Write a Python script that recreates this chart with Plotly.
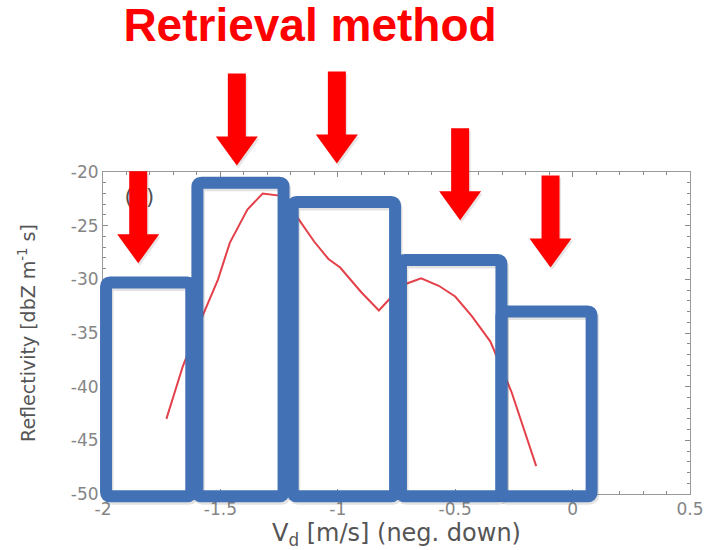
import plotly.graph_objects as go

# Reflectivity profile vs. Doppler velocity
vd = [-1.73, -1.66, -1.57, -1.51, -1.46, -1.385, -1.32, -1.25, -1.17, -1.10, -1.04,
      -0.99, -0.90, -0.825, -0.77, -0.72, -0.645, -0.57, -0.50, -0.43, -0.35, -0.26, -0.155]
refl = [-43.0, -38.1, -33.1, -30.0, -26.6, -23.5, -22.0, -22.2, -24.3, -26.5, -28.1,
        -28.9, -31.2, -32.9, -31.6, -30.5, -29.9, -30.6, -31.6, -33.4, -35.8, -40.5, -47.4]

# Velocity bins highlighted by the retrieval (data units)
box_left = [-1.987, -1.598, -1.192, -0.731, -0.303]
box_right = [-1.624, -1.231, -0.756, -0.303, 0.081]
box_top = [-30.3, -21.0, -22.8, -28.2, -33.0]
box_bottom = -50.2

# Arrows pointing at each bin: centre velocity and tip reflectivity
arrow_x = [-1.85, -1.43, -1.004, -0.479, -0.094]
arrow_tip = [-28.5, -19.4, -19.2, -24.5, -28.9]

x_ticks = [-2, -1.5, -1, -0.5, 0, 0.5]
x_labels = ["-2", "-1.5", "-1", "-0.5", "0", "0.5"]
y_ticks = [-50, -45, -40, -35, -30, -25, -20]
y_labels = ["-50", "-45", "-40", "-35", "-30", "-25", "-20"]

W, H = 704, 550
ML, MR, MT, MB = 103, 14, 172, 56
XR = (-2.0, 0.5)
YR = (-50.0, -20.0)
PW, PH = W - ML - MR, H - MT - MB


def to_px(x, y):
    px = ML + (x - XR[0]) / (XR[1] - XR[0]) * PW
    py = MT + (YR[1] - y) / (YR[1] - YR[0]) * PH
    return px, py


def to_paper(px, py):
    return (px - ML) / PW, (H - MB - py) / PH


def pt(px, py):
    a, b = to_paper(px, py)
    return f"{a:.5f},{b:.5f}"


def rounded_rect(x0, x1, y0, y1, r=4):
    # x0<x1 in pixels, y0 top < y1 bottom
    return (f"M{pt(x0 + r, y0)} L{pt(x1 - r, y0)} Q{pt(x1, y0)} {pt(x1, y0 + r)} "
            f"L{pt(x1, y1 - r)} Q{pt(x1, y1)} {pt(x1 - r, y1)} "
            f"L{pt(x0 + r, y1)} Q{pt(x0, y1)} {pt(x0, y1 - r)} "
            f"L{pt(x0, y0 + r)} Q{pt(x0, y0)} {pt(x0 + r, y0)} Z")


def arrow_path(cx, tip_y, length=92, shaft=18, head_w=42, head_h=29, dx=0, dy=0):
    cx += dx
    tip_y += dy
    top = tip_y - length
    base = tip_y - head_h
    pts = [(cx - shaft / 2, top), (cx + shaft / 2, top), (cx + shaft / 2, base),
           (cx + head_w / 2, base), (cx, tip_y), (cx - head_w / 2, base),
           (cx - shaft / 2, base)]
    return "M" + " L".join(pt(a, b) for a, b in pts) + " Z"


fig = go.Figure()

fig.add_trace(go.Scatter(x=vd, y=refl, mode="lines",
                         line=dict(color="#E4404A", width=2), hoverinfo="skip"))
fig.add_trace(go.Scatter(x=[-1.845], y=[-22.5], mode="text", text=["(b)"],
                         textfont=dict(family="DejaVu Sans", size=21, color="#505050"),
                         hoverinfo="skip"))

shapes = []
blue = "#4271B5"
for l, r, t in zip(box_left, box_right, box_top):
    x0, y0 = to_px(l, t)
    x1, y1 = to_px(r, box_bottom)
    shapes.append(dict(type="path", xref="paper", yref="paper",
                       path=rounded_rect(x0 + 1.5, x1 + 1.5, y0 + 2.5, y1 + 2.5),
                       line=dict(color="rgba(60,60,60,0.15)", width=12),
                       fillcolor="rgba(0,0,0,0)", layer="above"))
    shapes.append(dict(type="path", xref="paper", yref="paper",
                       path=rounded_rect(x0, x1, y0, y1),
                       line=dict(color=blue, width=12),
                       fillcolor="rgba(0,0,0,0)", layer="above"))

for ax_, tip in zip(arrow_x, arrow_tip):
    cx, ty = to_px(ax_, tip)
    shapes.append(dict(type="path", xref="paper", yref="paper",
                       path=arrow_path(cx, ty, dx=1.5, dy=2.5),
                       line=dict(width=0), fillcolor="rgba(80,80,80,0.15)", layer="above"))
    shapes.append(dict(type="path", xref="paper", yref="paper",
                       path=arrow_path(cx, ty),
                       line=dict(width=0), fillcolor="#FF0000", layer="above"))

axis_common = dict(showline=True, linecolor="#9a9a9a", linewidth=1, mirror="ticks",
                   ticks="inside", ticklen=5, tickcolor="#8a8a8a", showgrid=False,
                   zeroline=False, automargin=False,
                   tickfont=dict(family="DejaVu Sans", size=17, color="#858585"))

fig.update_layout(
    width=W, height=H,
    margin=dict(l=ML, r=MR, t=MT, b=MB),
    paper_bgcolor="white", plot_bgcolor="white",
    showlegend=False,
    shapes=shapes,
    title=dict(text="<b>Retrieval method</b>", x=310 / W, xanchor="center",
               y=1 - 25 / H, yanchor="middle", xref="container",
               font=dict(family="Liberation Sans, Arial", size=46, color="#FF0000")),
    xaxis=dict(range=list(XR), tickvals=x_ticks, ticktext=x_labels,
               minor=dict(dtick=0.1, ticks="inside", ticklen=3, tickcolor="#8a8a8a"),
               title=dict(text="V<sub>d</sub> [m/s] (neg. down)", standoff=0,
                          font=dict(family="DejaVu Sans", size=24, color="#555555")),
               **axis_common),
    yaxis=dict(range=list(YR), tickvals=y_ticks, ticktext=y_labels,
               minor=dict(dtick=1, ticks="inside", ticklen=3, tickcolor="#8a8a8a"),
               title=dict(text="Reflectivity [dbZ m<sup>-1</sup> s]", standoff=30,
                          font=dict(family="DejaVu Sans", size=19, color="#555555")),
               **axis_common),
)

fig.write_html("out.html")
